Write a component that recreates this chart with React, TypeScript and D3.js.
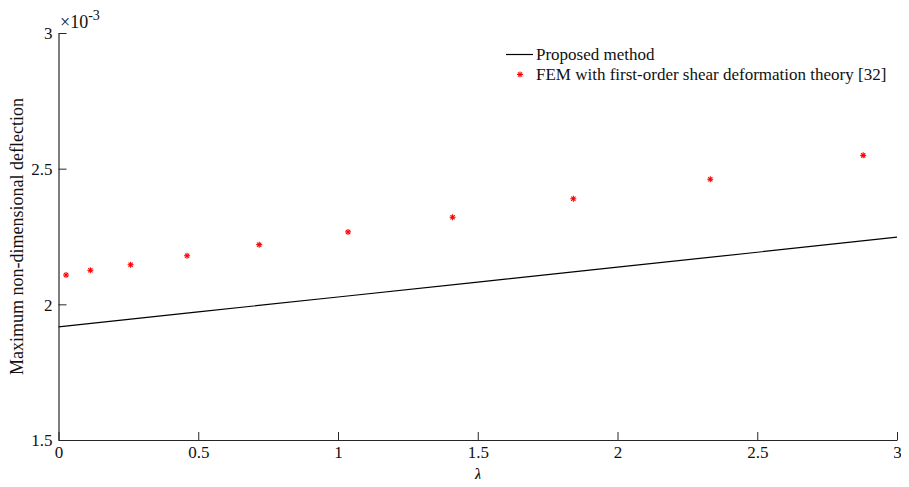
import React, { useEffect, useRef } from "react";
import * as d3 from "d3";

const WIDTH = 909;
const HEIGHT = 487;
const MARGIN = { top: 33, right: 12, bottom: 47, left: 58.5 };

// Proposed method (solid line), values in units of 1e-3
const lineLambda = [0, 0.5, 1, 1.5, 2, 2.5, 3];
const lineValues = [1.917, 1.972, 2.027, 2.082, 2.137, 2.192, 2.248];

// FEM with FSDT (red asterisks)
const femLambda = [0.027, 0.114, 0.258, 0.46, 0.718, 1.036, 1.41, 1.842, 2.332, 2.879];
const femValues = [2.108, 2.1255, 2.146, 2.179, 2.22, 2.267, 2.321, 2.389, 2.461, 2.549];

const xTicks = [0, 0.5, 1, 1.5, 2, 2.5, 3];
const yTicks = [1.5, 2, 2.5, 3];

const FONT = "Liberation Serif";
const AXIS_COLOR = "#262626";

const App = () => {
  const axesRef = useRef<SVGGElement | null>(null);
  const boundsWidth = WIDTH - MARGIN.left - MARGIN.right;
  const boundsHeight = HEIGHT - MARGIN.top - MARGIN.bottom;

  const xScale = d3.scaleLinear().domain([0, 3]).range([0, boundsWidth]);
  const yScale = d3.scaleLinear().domain([1.5, 3]).range([boundsHeight, 0]);

  useEffect(() => {
    const g = d3.select(axesRef.current);
    g.selectAll("*").remove();

    const xAxis = g
      .append("g")
      .attr("transform", `translate(0, ${boundsHeight})`)
      .call(
        d3
          .axisBottom(xScale)
          .tickValues(xTicks)
          .tickFormat((d) => String(d))
          .tickSizeInner(-8)
          .tickSizeOuter(0)
          .tickPadding(6)
      );

    const yAxis = g.append("g").call(
      d3
        .axisLeft(yScale)
        .tickValues(yTicks)
        .tickFormat((d) => String(d))
        .tickSizeInner(-8)
        .tickSizeOuter(0)
        .tickPadding(6)
    );

    [xAxis, yAxis].forEach((ax) => {
      ax.attr("font-family", FONT).attr("font-size", 17);
      ax.select(".domain").attr("stroke", AXIS_COLOR).attr("stroke-width", 1.2);
      ax.selectAll(".tick line").attr("stroke", AXIS_COLOR).attr("stroke-width", 1);
      ax.selectAll(".tick text").attr("fill", "#111");
    });
    yAxis.selectAll(".tick text").attr("dy", "0.35em");
  }, [xScale, yScale, boundsHeight]);

  const line = d3
    .line<number>()
    .x((d, i) => xScale(lineLambda[i]))
    .y((d) => yScale(d));

  const star = (cx: number, cy: number, r: number, key: string | number) => {
    const k = r * 0.7071;
    return (
      <g key={key} stroke="#ff0000" strokeWidth={1.1}>
        <line x1={cx - r} y1={cy} x2={cx + r} y2={cy} />
        <line x1={cx} y1={cy - r} x2={cx} y2={cy + r} />
        <line x1={cx - k} y1={cy - k} x2={cx + k} y2={cy + k} />
        <line x1={cx - k} y1={cy + k} x2={cx + k} y2={cy - k} />
      </g>
    );
  };

  return (
    <div style={{ margin: -8 }}>
      <svg width={WIDTH} height={HEIGHT} style={{ display: "block", background: "#fff" }}>
        <g transform={`translate(${MARGIN.left},${MARGIN.top})`}>
          <path
            d={line(lineValues) || ""}
            fill="none"
            stroke="#000"
            strokeWidth={1.2}
          />
          {femValues.map((v, i) => star(xScale(femLambda[i]), yScale(v), 3, i))}
        </g>
        <g ref={axesRef} transform={`translate(${MARGIN.left},${MARGIN.top})`} />

        {/* exponent */}
        <text x={60} y={28} fontFamily={FONT} fontSize={18} fill="#111">
          ×10
          <tspan dy={-8} fontSize={14}>-3</tspan>
        </text>

        {/* axis labels */}
        <text
          x={478}
          y={481}
          textAnchor="middle"
          fontFamily={FONT}
          fontSize={18}
          fontStyle="italic"
          fill="#111"
        >
          λ
        </text>
        <text
          transform={`translate(23, ${MARGIN.top + boundsHeight / 2}) rotate(-90)`}
          textAnchor="middle"
          fontFamily={FONT}
          fontSize={18}
          fill="#111"
        >
          Maximum non-dimensional deflection
        </text>

        {/* legend */}
        <g fontFamily={FONT} fontSize={17} fill="#111">
          <line x1={506} y1={54.5} x2={533} y2={54.5} stroke="#000" strokeWidth={1.2} />
          <text x={536} y={60}>Proposed method</text>
          {star(520, 74.5, 3, "legend")}
          <text x={536} y={80}>FEM with first-order shear deformation theory [32]</text>
        </g>
      </svg>
    </div>
  );
};

export default App;
